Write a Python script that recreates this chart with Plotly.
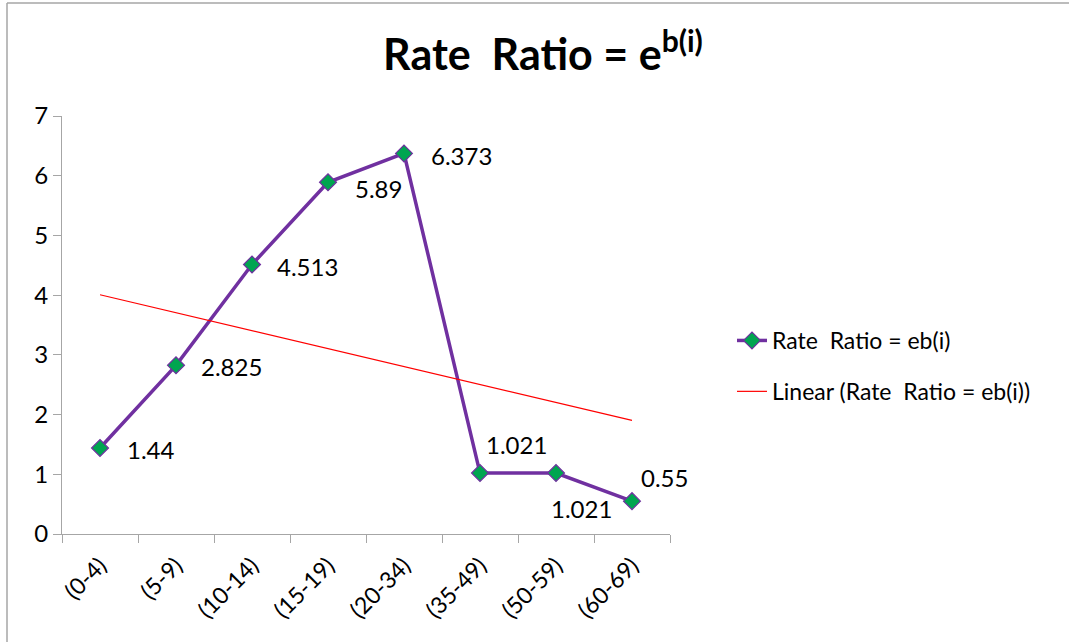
import numpy as np
import plotly.graph_objects as go

categories = ["(0-4)", "(5-9)", "(10-14)", "(15-19)", "(20-34)", "(35-49)", "(50-59)", "(60-69)"]
rate_ratio = [1.44, 2.825, 4.513, 5.89, 6.373, 1.021, 1.021, 0.55]
value_labels = ["1.44", "2.825", "4.513", "5.89", "6.373", "1.021", "1.021", "0.55"]
y_ticks = [0, 1, 2, 3, 4, 5, 6, 7]

series_name = "Rate\u00a0 Ratio = eb(i)"
trend_name = "Linear (Rate\u00a0 Ratio = eb(i))"

idx = np.arange(1, len(rate_ratio) + 1)
slope, intercept = np.polyfit(idx, rate_ratio, 1)
trend = slope * idx + intercept

FONT = "Lato, Carlito, 'Open Sans', sans-serif"

W, H = 1069, 642
L, R, T, B = 62, 399, 116, 108
px_w = W - L - R
px_h = H - T - B

# label offsets (pixels) relative to each point: left edge shift, vertical shift (up +)
label_dx = [25, 23, 23, 25, 25, 4, -7, 7]
label_dy = [-1, -1, -2, -6, -2, 29, -35, 24]

fig = go.Figure()
fig.add_trace(go.Scatter(
    x=categories, y=rate_ratio, mode="lines+markers",
    name=series_name, legendgroup="a",
    line=dict(color="#7030A0", width=3.5),
    marker=dict(symbol="diamond", size=13, color="#00A550",
                line=dict(color="#7030A0", width=1.2)),
    cliponaxis=False,
))
fig.add_trace(go.Scatter(
    x=categories, y=trend, mode="lines", name=trend_name, legendgroup="b",
    line=dict(color="#FF0000", width=1.2),
))

for c, v, t, dx, dy in zip(categories, rate_ratio, value_labels, label_dx, label_dy):
    fig.add_annotation(x=c, y=v, text=t, showarrow=False, xanchor="left",
                       yanchor="middle", xshift=dx, yshift=dy,
                       font=dict(size=24, color="#000000", family=FONT))

fig.update_layout(
    width=W, height=H,
    paper_bgcolor="white", plot_bgcolor="white",
    margin=dict(l=L, r=R, t=T, b=B, autoexpand=False),
    font=dict(family=FONT, size=22, color="#000000"),
    title=dict(text="<b>Rate\u00a0 Ratio = e<sup>b(i)</sup></b>",
               x=543 / W, xanchor="center", xref="container",
               y=1 - 55 / H, yanchor="middle", yref="container",
               font=dict(size=43, family=FONT, color="#000000")),
    showlegend=True,
    legend=dict(x=(732 - L) / px_w, xanchor="left",
                y=(H - B - 366) / px_h, yanchor="middle",
                font=dict(size=23, family=FONT, color="#000000"),
                traceorder="grouped", tracegroupgap=18,
                bgcolor="rgba(0,0,0,0)"),
    xaxis=dict(type="category", showgrid=False, showline=True, linecolor="#A6A6A6",
               linewidth=1.2, ticks="outside", tickson="boundaries", ticklen=8,
               tickcolor="#A6A6A6", tickangle=-45, range=[-0.5, 7.5],
               ticklabelstandoff=8, ticklabelshift=0,
               tickfont=dict(size=23, family=FONT, color="#000000")),
    yaxis=dict(range=[0, 7], tickvals=y_ticks, showgrid=False, showline=True,
               linecolor="#A6A6A6", linewidth=1.2, ticks="outside", ticklen=8,
               tickcolor="#A6A6A6", zeroline=False,
               tickfont=dict(size=24, family=FONT, color="#000000")),
    shapes=[
        dict(type="line", xref="paper", yref="paper",
             x0=(7 - L) / px_w, x1=(7 - L) / px_w,
             y0=-(H - (H - B)) / px_h, y1=((H - B) - 3) / px_h,
             line=dict(color="#A6A6A6", width=1.5)),
        dict(type="line", xref="paper", yref="paper",
             x0=(7 - L) / px_w, x1=(W - L) / px_w,
             y0=((H - B) - 3) / px_h, y1=((H - B) - 3) / px_h,
             line=dict(color="#A6A6A6", width=1.5)),
    ],
)

fig.write_html("out.html", config={"displayModeBar": False},
               post_script="document.body.style.margin='0';")
